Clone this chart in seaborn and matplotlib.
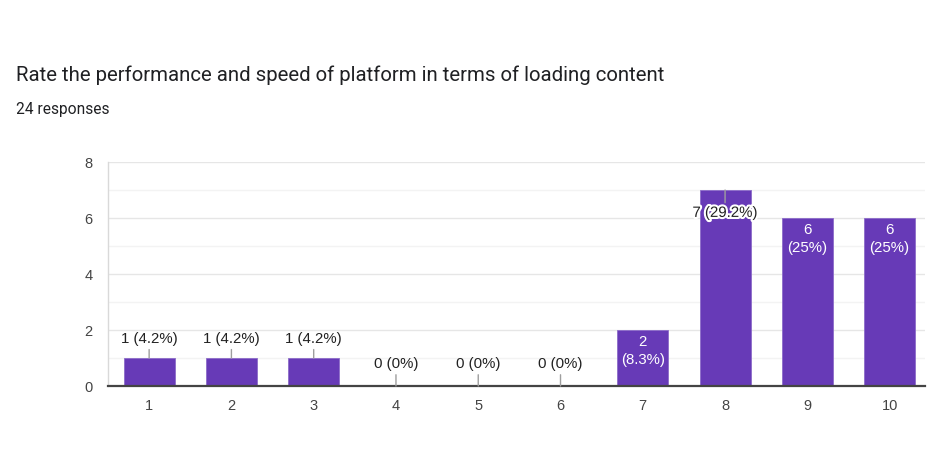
import matplotlib
matplotlib.use("Agg")
import matplotlib.pyplot as plt
import matplotlib.patheffects as pe
import seaborn as sns

# data
ratings = ['1', '2', '3', '4', '5', '6', '7', '8', '9', '10']
counts = [1, 1, 1, 0, 0, 0, 2, 7, 6, 6]
total = 24

title = "Rate the performance and speed of platform in terms of loading content"
subtitle = f"{total} responses"

purple = '#673ab7'

sns.set_style('white')
plt.rcParams['font.family'] = ['Liberation Sans', 'DejaVu Sans']

fig = plt.figure(figsize=(9.36, 4.64), dpi=100)
ax = fig.add_axes([108 / 936, 1 - 387 / 464, (925 - 108) / 936, (387 - 163) / 464])

sns.barplot(x=ratings, y=counts, color=purple, saturation=1, width=0.62, ax=ax,
            edgecolor='#8c6cc9', linewidth=0.6)

ax.set_ylim(0, 8)
ax.set_xlim(-0.5, 9.43)
ax.set_yticks([0, 2, 4, 6, 8])
ax.set_yticks([1, 3, 5, 7], minor=True)
ax.grid(axis='y', which='major', color='#e6e6e6', linewidth=1)
ax.grid(axis='y', which='minor', color='#f3f3f3', linewidth=1)
ax.set_axisbelow(True)
ax.tick_params(axis='both', length=0, labelsize=10.5, colors='#444444')
ax.tick_params(axis='y', pad=11)
ax.tick_params(axis='x', pad=9)
ax.set_xlabel('')
ax.set_ylabel('')
for s in ['top', 'right']:
    ax.spines[s].set_visible(False)
ax.spines['left'].set_color('#d9d9d9')
ax.spines['left'].set_linewidth(1)
ax.spines['bottom'].set_color('#444444')
ax.spines['bottom'].set_linewidth(1.6)
ax.spines['bottom'].set_zorder(5)

peak = max(counts)
for i, c in enumerate(counts):
    pct = f"{round(c / total * 100, 1):g}%"
    if c == peak:
        ax.annotate(f"{c} ({pct})", xy=(i, c), xytext=(0, -16.5), textcoords='offset points',
                    ha='center', va='center', fontsize=10.8, color='#222222',
                    path_effects=[pe.withStroke(linewidth=3, foreground='white')],
                    arrowprops=dict(arrowstyle='-', color='#9e9e9e', lw=1, shrinkA=0, shrinkB=0),
                    zorder=6)
    elif c >= 2:
        ax.annotate(f"{c}\n({pct})", xy=(i, c), xytext=(0, -3), textcoords='offset points',
                    ha='center', va='top', fontsize=10.8, color='white', linespacing=1.35,
                    zorder=6)
    else:
        off = 14.5 if c > 0 else 16.5
        ax.annotate(f"{c} ({pct})", xy=(i, c), xytext=(0, off), textcoords='offset points',
                    ha='center', va='center', fontsize=10.8, color='#222222',
                    arrowprops=dict(arrowstyle='-', color='#9e9e9e', lw=1, shrinkA=1, shrinkB=0),
                    zorder=6)

fig.text(16 / 936, 1 - 75 / 464, title, fontsize=14.7, color='#202124',
         family=['Roboto', 'DejaVu Sans'], va='center', ha='left')
fig.text(16 / 936, 1 - 110 / 464, subtitle, fontsize=11.2, color='#202124',
         family=['Roboto', 'DejaVu Sans'], va='center', ha='left')

fig.savefig('out.png', dpi=100, facecolor='white')
